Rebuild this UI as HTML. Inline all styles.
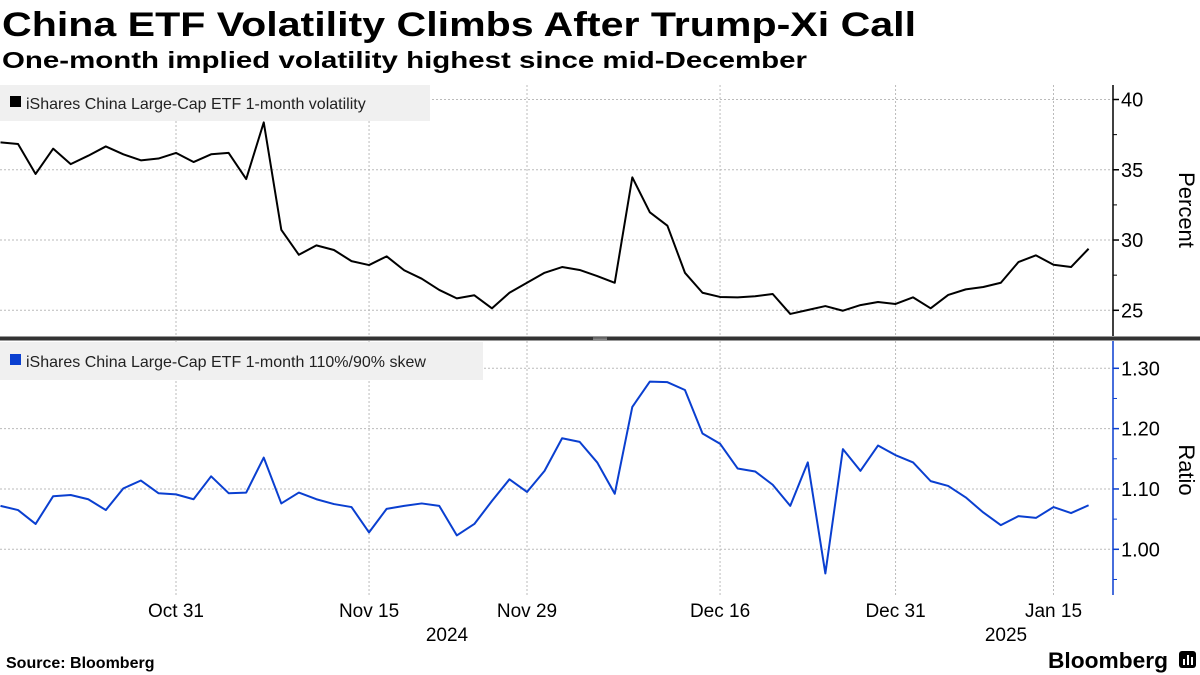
<!DOCTYPE html>
<html><head><meta charset="utf-8"><style>
html,body{margin:0;padding:0;background:#fff;width:1200px;height:675px;overflow:hidden;font-family:"Liberation Sans",sans-serif}
</style></head><body>
<svg id="c" width="1200" height="675" viewBox="0 0 1200 675" xmlns="http://www.w3.org/2000/svg">
<text x="2" y="36" font-size="34" font-weight="bold" fill="#000" textLength="914" lengthAdjust="spacingAndGlyphs">China ETF Volatility Climbs After Trump-Xi Call</text>
<text x="2" y="68" font-size="23" font-weight="bold" fill="#000" textLength="805" lengthAdjust="spacingAndGlyphs">One-month implied volatility highest since mid-December</text>
<g id="grid"></g>
<rect x="0" y="85" width="430" height="36" fill="#f0f0f0"/>
<rect x="10" y="96" width="11" height="11" fill="#000"/>
<text x="26" y="109" font-size="16" fill="#222">iShares China Large-Cap ETF 1-month volatility</text>
<rect x="0" y="342" width="483" height="38" fill="#f0f0f0"/>
<rect x="10" y="354" width="11" height="11" fill="#0a3fd0"/>
<text x="26" y="367" font-size="16" fill="#222">iShares China Large-Cap ETF 1-month 110%/90% skew</text>
<g id="marks"></g>
<rect x="0" y="336.5" width="1200" height="4" fill="#333"/>
<line x1="593" y1="338" x2="607" y2="338" stroke="#aaa" stroke-width="0.8"/>
<line x1="593" y1="339.3" x2="607" y2="339.3" stroke="#aaa" stroke-width="0.8"/>
<text x="1185" y="210" font-size="22" fill="#000" text-anchor="middle" transform="rotate(90 1185 210)" dominant-baseline="middle">Percent</text>
<text x="1185" y="470" font-size="22" fill="#000" text-anchor="middle" transform="rotate(90 1185 470)" dominant-baseline="middle">Ratio</text>
<text x="447" y="641" font-size="19" fill="#000" text-anchor="middle">2024</text>
<text x="1006" y="641" font-size="19" fill="#000" text-anchor="middle">2025</text>
<text x="6" y="668" font-size="16" font-weight="bold" fill="#000">Source: Bloomberg</text>
<text x="1048" y="668" font-size="22" font-weight="bold" fill="#000" textLength="120" lengthAdjust="spacingAndGlyphs">Bloomberg</text>
<rect x="1179" y="651" width="17" height="17" rx="3" fill="#000"/>
<rect x="1183" y="659" width="2" height="6" fill="#fff"/><rect x="1187" y="655" width="2" height="10" fill="#fff"/><rect x="1191" y="657" width="2" height="8" fill="#fff"/>
</svg>
<script>
const volatility=[36.95,36.83,34.7,36.5,35.4,36.0,36.66,36.1,35.67,35.8,36.2,35.55,36.1,36.2,34.34,38.37,30.73,28.95,29.62,29.29,28.5,28.22,28.84,27.85,27.25,26.45,25.85,26.07,25.14,26.25,26.96,27.67,28.08,27.87,27.44,26.96,34.46,31.97,31.02,27.67,26.25,25.95,25.92,26.0,26.16,24.74,25.02,25.3,24.97,25.37,25.59,25.45,25.92,25.14,26.09,26.49,26.66,26.96,28.43,28.91,28.24,28.08,29.38];
const skew=[1.072,1.065,1.042,1.088,1.090,1.083,1.065,1.101,1.114,1.093,1.091,1.083,1.121,1.093,1.094,1.152,1.076,1.094,1.083,1.075,1.070,1.028,1.067,1.072,1.076,1.072,1.023,1.042,1.080,1.116,1.095,1.130,1.184,1.178,1.144,1.092,1.236,1.278,1.277,1.264,1.192,1.175,1.134,1.129,1.107,1.072,1.144,0.960,1.166,1.130,1.172,1.156,1.144,1.113,1.105,1.086,1.061,1.040,1.055,1.052,1.070,1.060,1.073];
const xTickLabels=["Oct 31","Nov 15","Nov 29","Dec 16","Dec 31","Jan 15"];
const xTickIndex=[10,21,30,41,51,60];
const topTicks=[25,30,35,40];
const topMinor=[27.5,32.5,37.5];
const botTicks=[1.00,1.10,1.20,1.30];
const botMinor=[0.95,1.05,1.15,1.25];

const NS="http://www.w3.org/2000/svg";
const X0=0.5,DX=17.55,AXX=1113;
const xs=i=>X0+i*DX;
const yTop=v=>310.3-(v-25)*(310.3-99.5)/15;
const yBot=v=>549.3-(v-1)*(549.3-368.3)/0.3;
function mk(tag,attrs,parent){const e=document.createElementNS(NS,tag);for(const k in attrs)e.setAttribute(k,attrs[k]);parent.appendChild(e);return e;}
const grid=document.getElementById('grid'),marks=document.getElementById('marks');

topTicks.forEach(v=>{
  const l=mk('line',{x1:0,x2:AXX,y1:yTop(v),y2:yTop(v),stroke:'#bbb','stroke-width':1,'stroke-dasharray':'2,2'},grid);
  
  
  const t=mk('line',{x1:AXX,x2:AXX+6,y1:yTop(v),y2:yTop(v),stroke:'#000','stroke-width':1.5},marks);
  
  
  const tx=mk('text',{x:AXX+8,y:yTop(v)+7,'font-size':20,fill:'#000'},marks);
  tx.textContent=String(v);
  
  
});
topMinor.forEach(v=>{mk('line',{x1:AXX,x2:AXX+4,y1:yTop(v),y2:yTop(v),stroke:'#000','stroke-width':1},marks);});
botTicks.forEach(v=>{
  const l=mk('line',{x1:0,x2:AXX,y1:yBot(v),y2:yBot(v),stroke:'#bbb','stroke-width':1,'stroke-dasharray':'2,2'},grid);
  
  
  const t=mk('line',{x1:AXX,x2:AXX+6,y1:yBot(v),y2:yBot(v),stroke:'#0a3fd0','stroke-width':1.5},marks);
  
  
  const tx=mk('text',{x:AXX+8,y:yBot(v)+7,'font-size':20,fill:'#000'},marks);
  tx.textContent=v.toFixed(2);
  
  
});
botMinor.forEach(v=>{mk('line',{x1:AXX,x2:AXX+4,y1:yBot(v),y2:yBot(v),stroke:'#0a3fd0','stroke-width':1},marks);});
xTickIndex.forEach((k,j)=>{
  const x=xs(k);
  const g1=mk('line',{x1:x,x2:x,y1:85,y2:336,stroke:'#bbb','stroke-width':1,'stroke-dasharray':'2,2'},grid);
  
  
  const g2=mk('line',{x1:x,x2:x,y1:341,y2:595,stroke:'#bbb','stroke-width':1,'stroke-dasharray':'2,2'},grid);
  
  
  const tx=mk('text',{x:x,y:617,'font-size':19,fill:'#000','text-anchor':'middle'},marks);
  tx.textContent=xTickLabels[j];
  
  
});
const a1=mk('line',{x1:AXX,x2:AXX,y1:85,y2:336,stroke:'#000','stroke-width':1.5},marks);


const a2=mk('line',{x1:AXX,x2:AXX,y1:341,y2:595,stroke:'#0a3fd0','stroke-width':1.5},marks);


const p1=mk('polyline',{points:volatility.map((v,i)=>xs(i)+','+yTop(v)).join(' '),fill:'none',stroke:'#000','stroke-width':2,'stroke-linejoin':'round'},marks);


const p2=mk('polyline',{points:skew.map((v,i)=>xs(i)+','+yBot(v)).join(' '),fill:'none',stroke:'#0a3fd0','stroke-width':2,'stroke-linejoin':'round'},marks);


</script>
</body></html>
